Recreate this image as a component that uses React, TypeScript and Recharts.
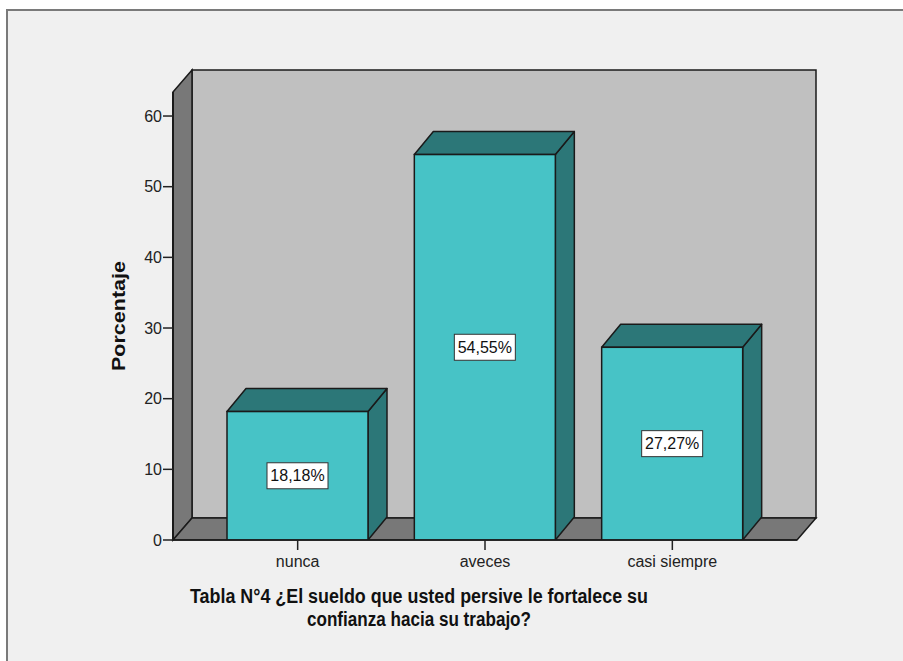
import { BarChart, Bar, XAxis, YAxis, ReferenceArea, LabelList } from "recharts";

const categories = ["nunca", "aveces", "casi siempre"];
const percentages = [18.18, 54.55, 27.27];
const yTicks = [0, 10, 20, 30, 40, 50, 60];
const titleLines = [
  "Tabla N°4 ¿El sueldo que usted persive le fortalece su",
  "confianza hacia su trabajo?",
];
const yLabel = "Porcentaje";

const data = categories.map((name, i) => ({ name, value: percentages[i] }));

const FONT = "Arial, 'Liberation Sans', sans-serif";
const X_PAD = 31;
const BOX_DX = 19;
const BOX_DY = -22;
const BAR_DX = 19;
const BAR_DY = -23;
const EDGE = "#1a1a1a";

// back wall, left wall and floor of the 3D frame (reference area skips the axis padding, so add it back)
const Box3D = (props: any) => {
  const x = props.x - X_PAD;
  const w = props.width + 2 * X_PAD;
  const { y, height: h } = props;
  return (
    <g>
      <rect x={x + BOX_DX} y={y + BOX_DY} width={w} height={h} fill="#c0c0c0" stroke={EDGE} strokeWidth={1.5} />
      <polygon
        points={`${x},${y} ${x + BOX_DX},${y + BOX_DY} ${x + BOX_DX},${y + h + BOX_DY} ${x},${y + h}`}
        fill="#787878"
        stroke={EDGE}
        strokeWidth={1.5}
      />
      <polygon
        points={`${x},${y + h} ${x + BOX_DX},${y + h + BOX_DY} ${x + w + BOX_DX},${y + h + BOX_DY} ${x + w},${y + h}`}
        fill="#787878"
        stroke={EDGE}
        strokeWidth={1.5}
      />
    </g>
  );
};

const Bar3D = (props: any) => {
  const { x, y, width: w, height: h } = props;
  if (!h) return null;
  return (
    <g>
      <polygon
        points={`${x + w},${y} ${x + w + BAR_DX},${y + BAR_DY} ${x + w + BAR_DX},${y + h + BAR_DY} ${x + w},${y + h}`}
        fill="#2c7778"
        stroke={EDGE}
        strokeWidth={1.5}
        strokeLinejoin="round"
      />
      <polygon
        points={`${x},${y} ${x + BAR_DX},${y + BAR_DY} ${x + w + BAR_DX},${y + BAR_DY} ${x + w},${y}`}
        fill="#2c7778"
        stroke={EDGE}
        strokeWidth={1.5}
        strokeLinejoin="round"
      />
      <rect x={x} y={y} width={w} height={h} fill="#47c3c6" stroke={EDGE} strokeWidth={1.5} />
    </g>
  );
};

const ValueLabel = (props: any) => {
  const { x, y, width, height, value } = props;
  const cx = x + width / 2;
  const cy = y + height / 2;
  const text = value.toFixed(2).replace(".", ",") + "%";
  return (
    <g>
      <rect x={cx - 30.5} y={cy - 13} width={61} height={26} fill="#ffffff" stroke="#333" strokeWidth={1} />
      <text x={cx} y={cy + 5.5} textAnchor="middle" fontFamily={FONT} fontSize={16} fill="#111">
        {text}
      </text>
    </g>
  );
};

const TitleLabel = (props: any) => {
  const { viewBox } = props;
  const cx = viewBox.x + viewBox.width / 2 - 66;
  const top = viewBox.y + viewBox.height;
  return (
    <g fontFamily={FONT} fontWeight="bold" fontSize={20} fill="#111">
      <text x={cx} y={top + 33} textAnchor="middle" textLength={458} lengthAdjust="spacingAndGlyphs">
        {titleLines[0]}
      </text>
      <text x={cx} y={top + 56} textAnchor="middle" textLength={224} lengthAdjust="spacingAndGlyphs">
        {titleLines[1]}
      </text>
    </g>
  );
};

const YTitle = (props: any) => {
  const { viewBox } = props;
  const x = viewBox.x + 11.5;
  const y = viewBox.y + viewBox.height / 2;
  return (
    <text
      x={x}
      y={y}
      transform={`rotate(-90 ${x} ${y})`}
      textAnchor="middle"
      fontFamily={FONT}
      fontWeight="bold"
      fontSize={18}
      fill="#111"
      textLength={110}
      lengthAdjust="spacingAndGlyphs"
    >
      {yLabel}
    </text>
  );
};

export default function App() {
  return (
    <div style={{ position: "absolute", left: 0, top: 0, width: 903, height: 661, background: "#ffffff", overflow: "hidden" }}>
      <div
        style={{
          position: "absolute",
          left: 6,
          top: 9,
          right: -4,
          bottom: -4,
          background: "#f0f0f0",
          borderTop: "2px solid #7a7a7a",
          borderLeft: "2px solid #7a7a7a",
        }}
      />
      <div style={{ position: "absolute", left: 0, top: 0 }}>
        <BarChart width={903} height={661} data={data} margin={{ top: 92, right: 106, bottom: 91, left: 113 }}>
          <ReferenceArea y1={0} y2={63.4} shape={Box3D} zIndex={-10} ifOverflow="visible" />
          <XAxis
            dataKey="name"
            height={30}
            padding={{ left: X_PAD, right: X_PAD }}
            tickSize={10}
            tickMargin={6}
            tick={{ fontFamily: FONT, fontSize: 16, fill: "#222" }}
            tickLine={{ stroke: "#222", strokeWidth: 1.5 }}
            axisLine={{ stroke: EDGE, strokeWidth: 1.5 }}
            label={<TitleLabel />}
          />
          <YAxis
            width={60}
            domain={[0, 63.4]}
            ticks={yTicks}
            allowDataOverflow
            tickSize={10}
            tickMargin={1}
            tick={{ fontFamily: FONT, fontSize: 16, fill: "#222" }}
            tickLine={{ stroke: "#222", strokeWidth: 1.5 }}
            axisLine={{ stroke: EDGE, strokeWidth: 2 }}
            label={<YTitle />}
          />
          <Bar dataKey="value" barSize={141} shape={Bar3D} isAnimationActive={false}>
            <LabelList dataKey="value" content={<ValueLabel />} />
          </Bar>
        </BarChart>
      </div>
    </div>
  );
}
